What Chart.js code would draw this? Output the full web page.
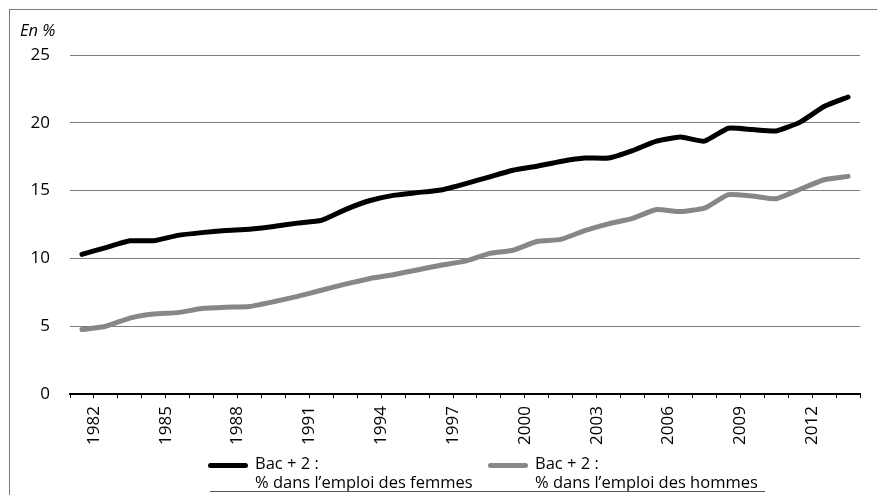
<!DOCTYPE html>
<html lang="fr">
<head>
<meta charset="utf-8">
<title>Bac + 2 dans l'emploi</title>
<script src="https://cdn.jsdelivr.net/npm/chart.js@4.4.0/dist/chart.umd.min.js"></script>
<style>
    body { margin: 0; background: #fff; }
    #wrap { position: relative; width: 877px; height: 495px; overflow: hidden; font-family: 'Open Sans', sans-serif; }
    #frame { position: absolute; left: 9px; top: 9px; width: 900px; height: 600px; border-left: 1px solid #7a7a7a; border-top: 1px solid #7a7a7a; }
    #unit { position: absolute; left: 20px; top: 18px; font-style: italic; font-size: 16.5px; color: #000; }
    #legend { position: absolute; left: 0; top: 0; }
    .item { position: absolute; top: 453px; font-size: 16.5px; line-height: 19px; color: #000; white-space: nowrap; }
    .swatch { position: absolute; top: 10px; width: 40px; height: 5px; border-radius: 3px; }
    .item span { position: absolute; top: 0; }
    #rule { position: absolute; left: 210px; top: 491px; width: 555px; border-top: 1px solid #555; }
</style>
</head>
<body>
<div id="wrap">
    <div id="frame"></div>
    <canvas id="chart" width="877" height="495"></canvas>
    <div id="unit">En %</div>
    <div id="legend"></div>
    <div id="rule"></div>
</div>
<script>
// Years on the x axis
const years = ['1982', '1983', '1984', '1985', '1986', '1987', '1988', '1989', '1990', '1991', '1992',
    '1993', '1994', '1995', '1996', '1997', '1998', '1999', '2000', '2001', '2002', '2003',
    '2004', '2005', '2006', '2007', '2008', '2009', '2010', '2011', '2012', '2013', '2014'];

// Share of Bac + 2 in employment, women (%)
const femmes = [10.3, 10.8, 11.3, 11.3, 11.7, 11.9, 12.05, 12.15, 12.35, 12.6, 12.8,
    13.6, 14.25, 14.65, 14.85, 15.05, 15.5, 16.0, 16.5, 16.8, 17.15, 17.4,
    17.4, 17.95, 18.65, 18.95, 18.65, 19.6, 19.5, 19.4, 20.05, 21.2, 21.9];

// Share of Bac + 2 in employment, men (%)
const hommes = [4.75, 5.0, 5.6, 5.9, 6.0, 6.3, 6.4, 6.45, 6.8, 7.2, 7.65,
    8.1, 8.5, 8.8, 9.15, 9.5, 9.8, 10.35, 10.6, 11.25, 11.4, 12.05,
    12.55, 12.95, 13.6, 13.45, 13.7, 14.7, 14.6, 14.4, 15.1, 15.8, 16.05];

const seriesLabels = ['Bac + 2 :\n% dans l\u2019emploi des femmes', 'Bac + 2 :\n% dans l\u2019emploi des hommes'];
const legendLeft = [208, 488];

const font = { family: "'Open Sans', sans-serif", size: 17 };

const ctx = document.getElementById('chart').getContext('2d');
const chart = new Chart(ctx, {
    type: 'line',
    data: {
        labels: years,
        datasets: [{
            label: seriesLabels[0],
            data: femmes,
            borderColor: '#000000',
            borderWidth: 5,
            tension: 0.15
        }, {
            label: seriesLabels[1],
            data: hommes,
            borderColor: '#878787',
            borderWidth: 5,
            tension: 0.15
        }]
    },
    options: {
        responsive: false,
        animation: false,
        layout: {
            padding: { left: 0, right: 17, top: 55, bottom: 46 }
        },
        elements: {
            point: { radius: 0 },
            line: { borderJoinStyle: 'round', borderCapStyle: 'round' }
        },
        plugins: {
            legend: { display: false },
            tooltip: { enabled: false }
        },
        scales: {
            x: {
                offset: true,
                grid: {
                    offset: true,
                    drawOnChartArea: false,
                    drawTicks: true,
                    tickLength: 4,
                    color: '#000000',
                    lineWidth: 1
                },
                border: { color: '#000000', width: 2 },
                ticks: {
                    autoSkip: false,
                    minRotation: 90,
                    maxRotation: 90,
                    labelOffset: 12,
                    padding: 8,
                    color: '#000000',
                    font: font,
                    callback: (value, index) => (index % 3 === 0 ? years[index] : '')
                },
                afterFit: (scale) => { scale.height = 55; }
            },
            y: {
                min: 0,
                max: 25,
                grid: {
                    drawTicks: false,
                    color: (c) => (c.tick.value === 0 ? '#000000' : '#7d7d7d'),
                    lineWidth: (c) => (c.tick.value === 0 ? 2 : 1)
                },
                border: { display: false },
                ticks: {
                    stepSize: 5,
                    padding: 20,
                    color: '#000000',
                    font: font
                },
                afterFit: (scale) => { scale.width = 70; }
            }
        }
    }
});

// Legend built from the datasets (two-line labels)
const legend = document.getElementById('legend');
chart.data.datasets.forEach((ds, i) => {
    const item = document.createElement('div');
    item.className = 'item';
    item.style.left = legendLeft[i] + 'px';
    const sw = document.createElement('div');
    sw.className = 'swatch';
    sw.style.left = '0px';
    sw.style.background = ds.borderColor;
    item.appendChild(sw);
    const txt = document.createElement('span');
    txt.style.left = '47px';
    txt.innerHTML = ds.label.split('\n').join('<br>');
    item.appendChild(txt);
    legend.appendChild(item);
});
</script>
</body>
</html>
